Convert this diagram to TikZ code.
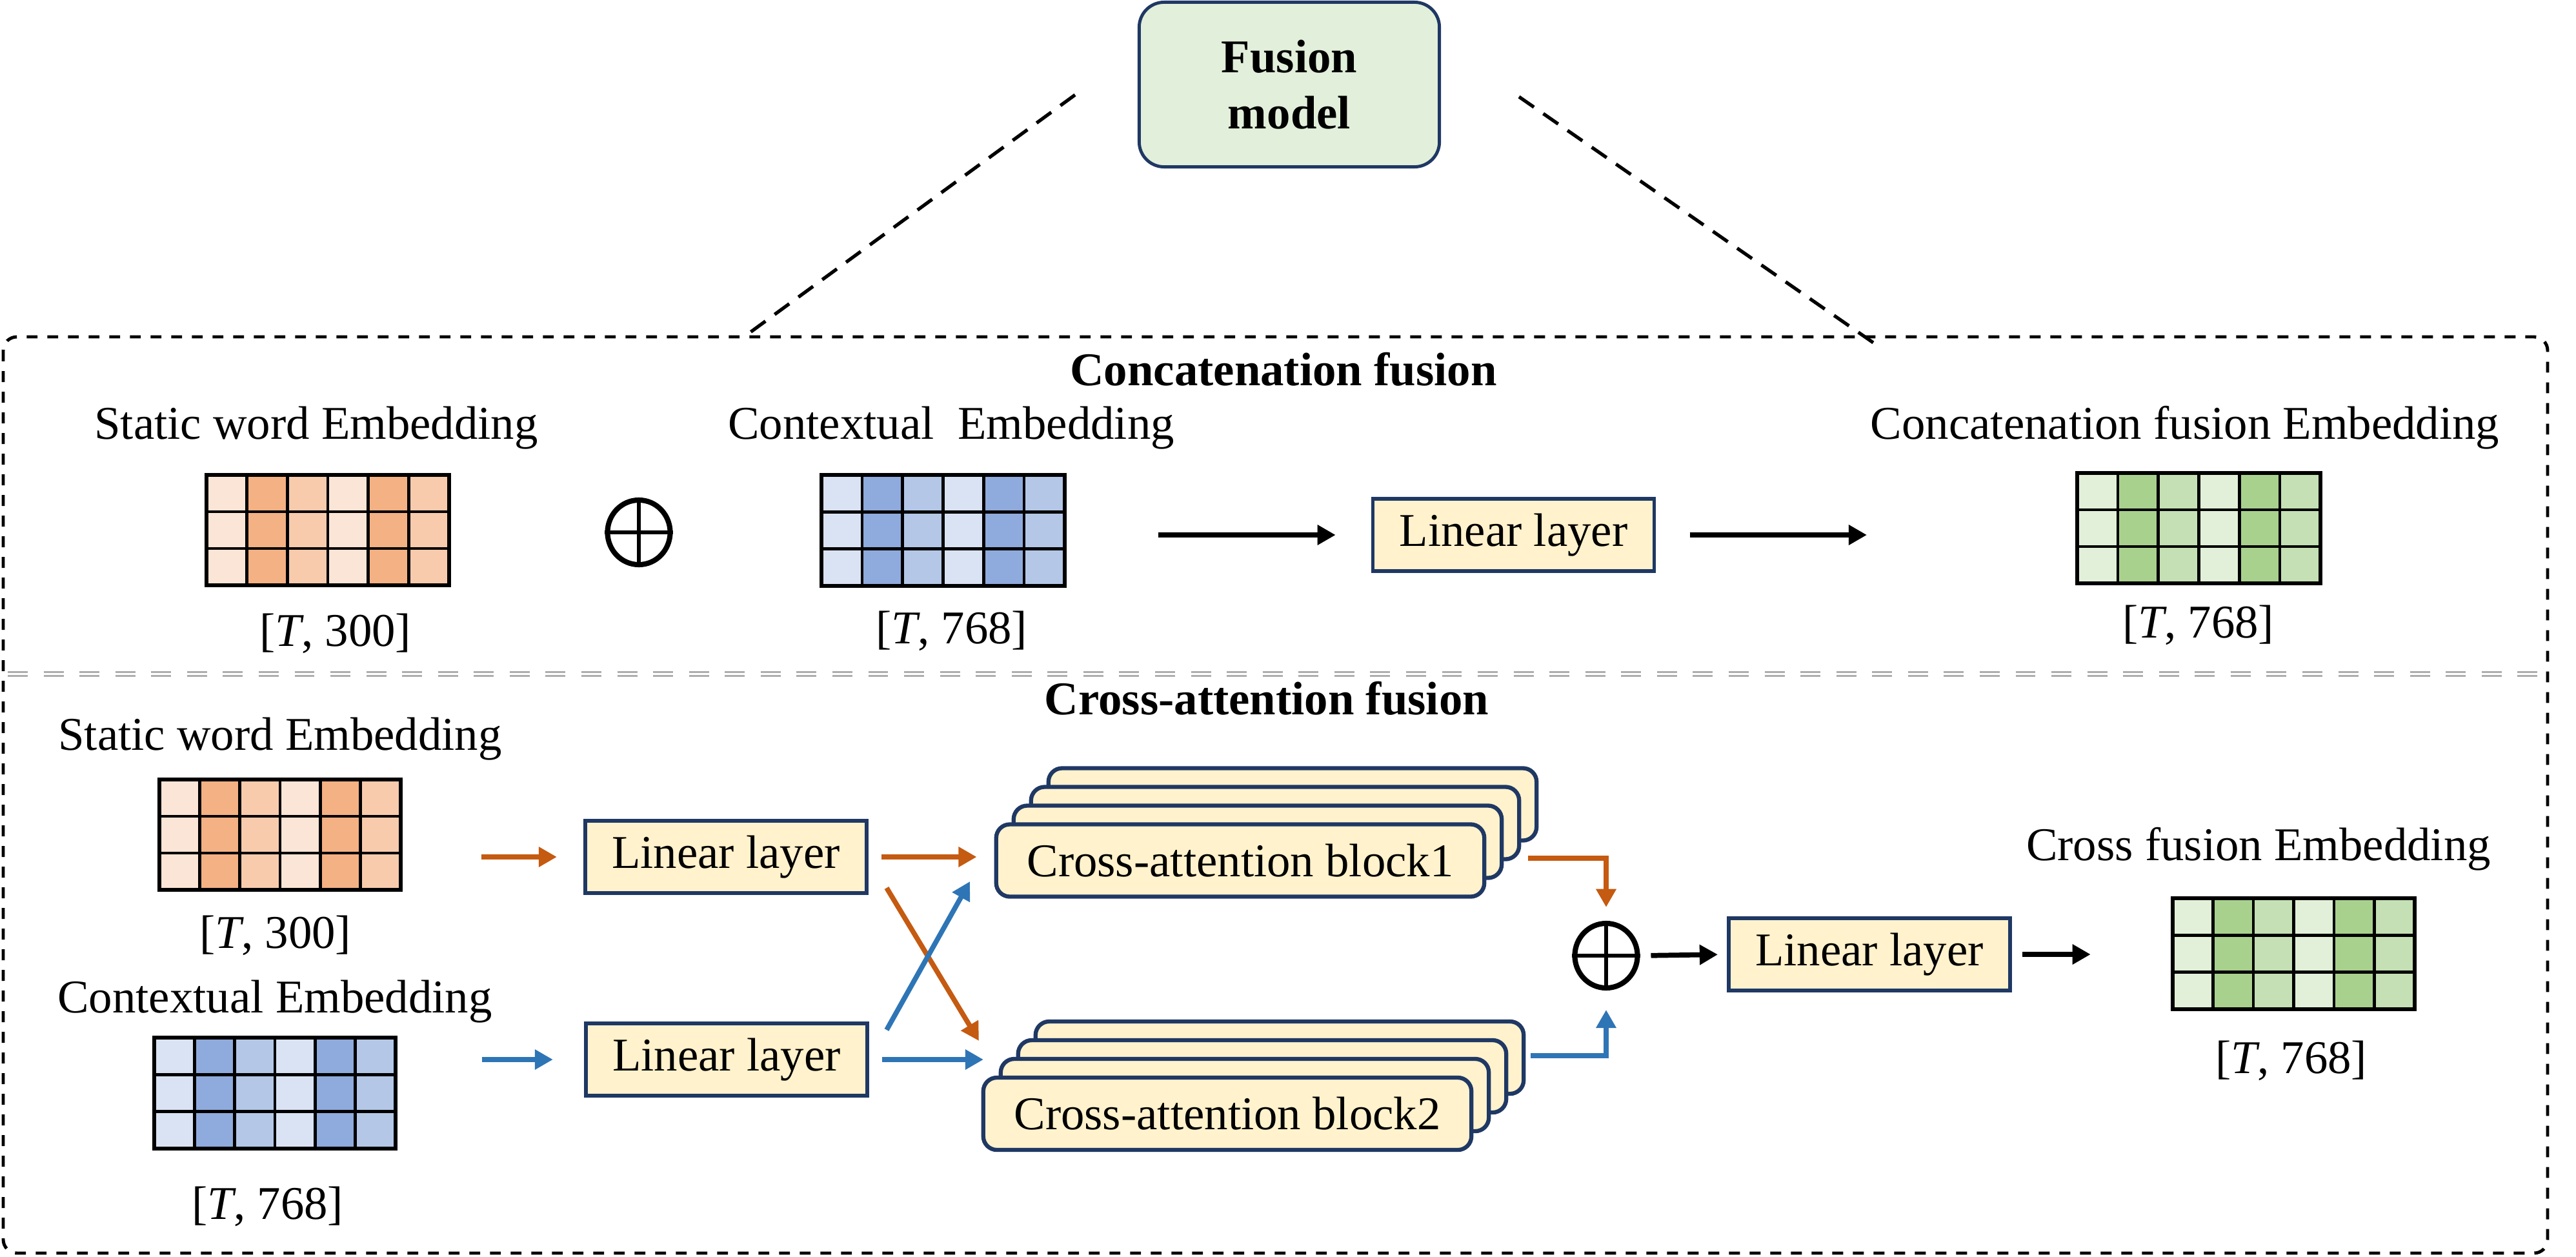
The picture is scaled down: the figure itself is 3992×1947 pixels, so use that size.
\documentclass[tikz,border=0pt]{standalone}
\usepackage{fontspec}
\setmainfont{Liberation Serif}
\usetikzlibrary{arrows.meta,calc,shapes.geometric}
\definecolor{navy}{HTML}{1F3864}
\definecolor{boxfill}{HTML}{FFF2CC}
\definecolor{fusfill}{HTML}{E2EFDA}
\definecolor{or1}{HTML}{FBE5D6}\definecolor{or2}{HTML}{F4B183}\definecolor{or3}{HTML}{F8CBAD}
\definecolor{bl1}{HTML}{DAE3F3}\definecolor{bl2}{HTML}{8FAADC}\definecolor{bl3}{HTML}{B4C7E7}
\definecolor{gr1}{HTML}{E2F0D9}\definecolor{gr2}{HTML}{A9D18E}\definecolor{gr3}{HTML}{C5E0B4}
\definecolor{arrOr}{HTML}{C55A11}
\definecolor{arrBl}{HTML}{2E75B6}
% name, x-left, y-top, width, height, colour prefix
\newcommand{\embgrid}[6]{%
  \foreach \i/\c in {0/1,1/2,2/3,3/1,4/2,5/3}{
    \fill[#6\c] ({#2+\i*#4/6},#3) rectangle ({#2+(\i+1)*#4/6},{#3+#5});
  }
  \foreach \i in {1,...,5}{\draw[line width=1.3pt] ({#2+\i*#4/6},#3) -- ({#2+\i*#4/6},{#3+#5});}
  \foreach \j in {1,2}{\draw[line width=1.3pt] (#2,{#3+\j*#5/3}) -- ({#2+#4},{#3+\j*#5/3});}
  \draw[line width=1.9pt] (#2,#3) rectangle ({#2+#4},{#3+#5});
  \node[inner sep=0pt, minimum width={#4*0.01cm}, minimum height={#5*0.01cm}] (#1) at ({#2+#4/2},{#3+#5/2}) {};
}
\begin{document}
\begin{tikzpicture}[x=0.01cm,y=-0.01cm,
  txt/.style={font=\fontsize{20.7}{24.8}\selectfont, inner sep=0pt},
  ttl/.style={font=\bfseries\fontsize{20.7}{24.8}\selectfont, inner sep=0pt},
  llbox/.style={draw=navy, line width=1.6pt, fill=boxfill, minimum width=4.36cm, minimum height=1.12cm, inner sep=0pt, font=\fontsize{20.7}{24.8}\selectfont},
  cab/.style={draw=navy, line width=1.8pt, fill=boxfill, rounded corners=6pt, minimum width=7.56cm, minimum height=1.12cm, inner sep=0pt, font=\fontsize{20.7}{24.8}\selectfont},
  fusbox/.style={draw=navy, line width=1.4pt, fill=fusfill, rounded corners=11pt, minimum width=4.65cm, minimum height=2.55cm, inner sep=0pt, align=center, font=\bfseries\fontsize{20.7}{24.7}\selectfont},
  blk/.style={line width=2.2pt, -{Triangle[length=8pt,width=8.5pt]}},
  orar/.style={blk, color=arrOr},
  blar/.style={blk, color=arrBl},
  oplus/.style={ellipse, draw, line width=2.3pt, minimum width=0.97cm, minimum height=1.0cm, inner sep=0pt},
  outerdash/.style={line width=1.4pt, dash pattern=on 4.8pt off 4.3pt},
  diagdash/.style={line width=1.5pt, dash pattern=on 8pt off 5pt},
  sepline/.style={line width=0.8pt, color=black!32, dash pattern=on 8.8pt off 7pt}
]
\useasboundingbox (0,0) rectangle (3992,1947);

% outer dashed frame
\draw[outerdash, rounded corners=6pt] (5,522) rectangle (3948,1942);
% separator
\draw[sepline] (12,1041.5) -- (3940,1041.5);
\draw[sepline] (12,1047.5) -- (3940,1047.5);

% fusion model
\node[fusbox] (fm) at (1998,131) {Fusion\\model};
\coordinate (dl1) at (1666,147); \coordinate (dl2) at (1153,522);
\coordinate (dr1) at (2354,150); \coordinate (dr2) at (2913,538);
\draw[diagdash] (dl1) -- (dl2);
\draw[diagdash] (dr1) -- (dr2);

% titles
\node[ttl, anchor=base] (t1) at (1989,597) {Concatenation fusion};
\node[ttl, anchor=base] (t2) at (1963,1107) {Cross-attention fusion};

% ---------- concatenation part ----------
\node[txt, anchor=base] (l1) at (490,680) {Static word Embedding};
\node[txt, anchor=base] (l2) at (1474,680) {Contextual\ \ Embedding};
\node[txt, anchor=base] (l3) at (3386,680) {Concatenation fusion Embedding};
\embgrid{og1}{320}{736}{376}{171}{or}
\embgrid{bg1}{1273}{736}{377}{172}{bl}
\embgrid{gg1}{3219}{733}{377}{171}{gr}
\node[txt] (d1) at (520,982) {[\textit{T}, 300]};
\node[txt] (d2) at (1475,978) {[\textit{T}, 768]};
\node[txt] (d3) at (3407,969) {[\textit{T}, 768]};
\node[oplus] (p1) at (990,825) {};
\draw[line width=1.6pt] (p1.north) -- (p1.south) (p1.west) -- (p1.east);
\node[llbox] (ll0) at (2345.5,829) {Linear layer};
\draw[blk, shorten <=41pt, shorten >=15.6pt] (bg1.east |- ll0.west) -- (ll0.west);
\draw[blk, shorten <=14.8pt, shorten >=92.5pt] (ll0.east) -- (gg1.west |- ll0.east);

% ---------- cross-attention part ----------
\node[txt, anchor=base] (l4) at (434,1162) {Static word Embedding};
\node[txt, anchor=base] (l5) at (426,1569) {Contextual Embedding};
\node[txt, anchor=base] (l6) at (3500,1333) {Cross fusion Embedding};
\embgrid{og2}{247}{1208}{374}{171}{or}
\embgrid{bg2}{239}{1608}{374}{172}{bl}
\embgrid{gg2}{3367}{1392}{375}{172}{gr}
\node[txt] (d4) at (427,1450) {[\textit{T}, 300]};
\node[txt] (d5) at (415,1870) {[\textit{T}, 768]};
\node[txt] (d6) at (3551,1644) {[\textit{T}, 768]};

\node[llbox] (ll1) at (1125,1328) {Linear layer};
\node[llbox] (ll2) at (1126,1642) {Linear layer};
\node[llbox] (ll3) at (2897,1479) {Linear layer};

% stacked cross-attention blocks
\foreach \k in {3,2,1}{
  \node[cab] (ca1b\k) at ({1922+27*\k},{1333.5-29*\k}) {};
  \node[cab] (ca2b\k) at ({1902+27*\k},{1726-29*\k}) {};
}
\node[cab] (ca1) at (1922,1333.5) {Cross-attention block1};
\node[cab] (ca2) at (1902,1726) {Cross-attention block2};

\node[oplus] (p2) at (2489,1481) {};
\draw[line width=1.6pt] (p2.north) -- (p2.south) (p2.west) -- (p2.east);

% arrows
\draw[orar, shorten <=35.3pt, shorten >=11.7pt] (og2.east |- ll1.west) -- (ll1.west);
\draw[blar, shorten <=37.8pt, shorten >=13.7pt] (bg2.east |- ll2.west) -- (ll2.west);
\draw[orar, shorten <=5.7pt, shorten >=7.7pt] (ll1.east) -- (ca1.west |- ll1.east);
\draw[blar, shorten <=5.7pt] (ll2.east) -- ++(177,0);
\coordinate (x1s) at (1374,1376); \coordinate (x1e) at (1517,1613);
\coordinate (x2s) at (1374,1596); \coordinate (x2e) at (1503,1366);
\draw[orar] (x1s) -- (x1e);
\draw[blar] (x2s) -- (x2e);
\coordinate (o3s) at (2368,1330);
\coordinate (b3s) at (2372,1636);
\draw[orar, shorten >=6pt] (o3s) -| (p2.north);
\draw[blar, shorten >=8.5pt] (b3s) -| (p2.south);
\draw[blk, shorten <=4.8pt, shorten >=4pt] (p2.east) -- (ll3.west);
\draw[blk, shorten <=4.6pt, shorten >=36pt] (ll3.east) -- (gg2.west |- ll3.east);
\end{tikzpicture}
\end{document}
